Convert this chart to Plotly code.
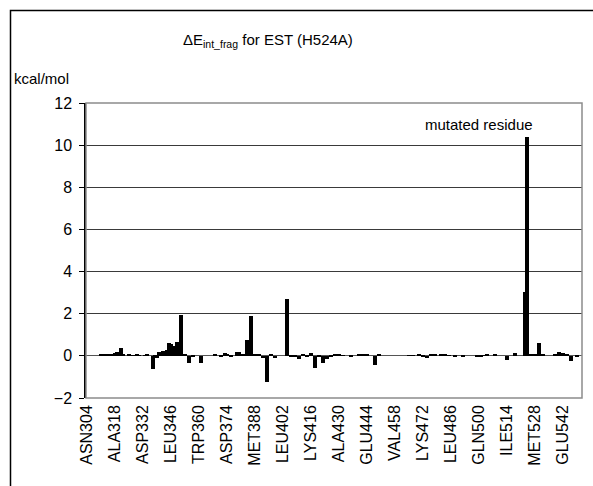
import plotly.graph_objects as go

# Residue numbers 304..551 (one bar per residue)
first_residue = 304
values = [
    0, 0, 0, 0, 0, 0, 0, 0.10, 0.08, 0.08, 0.08, 0.08, 0.10, 0.10,
    0.12, 0.18, 0.20, 0.35, 0.05, 0, 0, 0.05, 0, 0.04, 0, 0.05, 0.04, 0,
    0, 0.04, 0.05, 0, 0, -0.62, -0.05, -0.10, 0.18, 0.20, 0.22, 0.25, 0.30, 0.60,
    0.55, 0.45, 0.40, 0.65, 0.60, 1.92, 0, 0.10, 0, -0.35, 0, -0.05, 0, 0,
    0, -0.35, 0, 0, 0, 0, 0, 0, 0.10, 0, 0, -0.05, 0, 0.12,
    0.08, 0, -0.05, 0, 0, 0.18, 0.20, 0, 0.05, 0, 0.75, 0.75, 1.88, 0,
    0.10, 0, 0.05, 0, -0.10, 0, -1.25, 0, 0.10, 0, -0.10, 0, 0, 0,
    0, 0, 2.71, 0, -0.05, 0, -0.05, 0, -0.15, 0, 0.10, 0, -0.03, 0,
    0.15, 0, -0.58, 0, -0.05, 0, -0.35, 0, -0.15, 0, -0.05, 0, 0.05, 0,
    0.05, 0, 0.04, 0, 0, 0, -0.05, 0, 0, 0, 0.05, 0, 0.10, 0,
    0.05, 0, 0, 0, -0.42, 0, 0.10, 0, 0, 0, 0, 0, 0, 0,
    0, 0, 0, 0, 0, 0, 0, 0.03, 0, 0.03, 0, 0, 0.10, 0.03,
    -0.05, 0, -0.10, 0, 0.05, 0, 0.05, 0, 0, 0.05, 0, 0.05, 0, 0.03,
    0, 0, -0.03, 0, 0, 0, -0.03, 0, 0, 0, 0, 0, 0, -0.03,
    -0.05, -0.03, 0.03, 0, 0.05, 0, 0, 0, 0.05, 0, 0, 0, 0, 0,
    -0.18, 0, 0, 0, 0.15, 0, 0, 0, 0, 3.05, 10.40, 0.10, 0.10, 0.10,
    0.10, 0, 0.62, 0, 0.10, 0, 0, 0, 0, 0, 0.10, 0, 0.20, 0,
    0.15, 0, 0.05, 0, -0.25, 0, 0, -0.03, 0, 0,
]
residues = [first_residue + k for k in range(len(values))]

tick_residues = [304, 318, 332, 346, 360, 374, 388, 402, 416, 430,
                 444, 458, 472, 486, 500, 514, 528, 542]
tick_labels = ["ASN304", "ALA318", "ASP332", "LEU346", "TRP360", "ASP374",
               "MET388", "LEU402", "LYS416", "ALA430", "GLU444", "VAL458",
               "LYS472", "LEU486", "GLN500", "ILE514", "MET528", "GLU542"]

y_ticks = [-2, 0, 2, 4, 6, 8, 10, 12]

FONT = "Liberation Sans, Arial, sans-serif"

fig = go.Figure()
fig.add_trace(go.Bar(
    x=residues, y=values, width=1.8,
    marker=dict(color="#000000", line=dict(width=0)),
    showlegend=False,
))

W, H = 593, 486
L, R, T, B = 86, 11, 103, 88
pw, ph = W - L - R, H - T - B

def px(x):
    return (x - L) / pw

def py(y):
    return (H - B - y) / ph

fig.update_layout(
    width=W, height=H,
    margin=dict(l=L, r=R, t=T, b=B, pad=0),
    paper_bgcolor="white", plot_bgcolor="white",
    font=dict(family=FONT, size=15, color="black"),
    bargap=0,
    xaxis=dict(
        range=[first_residue - 0.5, first_residue + len(values) - 0.5],
        tickmode="array", tickvals=tick_residues, ticktext=tick_labels,
        tickangle=-90, ticks="", showgrid=False, zeroline=False,
        showline=False, tickfont=dict(size=16, family=FONT),
        ticklabelstandoff=3,
    ),
    yaxis=dict(
        range=[-2, 12], tickmode="array", tickvals=y_ticks,
        ticktext=["\u22122", "0", "2", "4", "6", "8", "10", "12"],
        ticks="outside", ticklen=5, tickcolor="black", tickwidth=1,
        showgrid=True, gridcolor="#3a3a3a", gridwidth=1,
        zeroline=True, zerolinecolor="#555555", zerolinewidth=1,
        showline=True, linecolor="black", linewidth=1.5,
        tickfont=dict(size=16, family=FONT),
        ticklabelstandoff=4,
    ),
    shapes=[
        # plot-area border
        dict(type="rect", xref="paper", yref="paper", x0=0, x1=1, y0=0, y1=1,
             line=dict(color="#8c8c8c", width=1.5), layer="above"),
        # outer chart frame
        dict(type="rect", xref="paper", yref="paper",
             x0=px(10.5), x1=px(620), y0=py(520), y1=py(10.5),
             line=dict(color="black", width=1.5)),
    ],
    annotations=[
        dict(text="\u0394E<sub>int_frag</sub> for EST (H524A)", xref="paper", yref="paper",
             x=px(268), y=py(40), xanchor="center", yanchor="middle",
             showarrow=False, font=dict(size=15, family=FONT)),
        dict(text="kcal/mol", xref="paper", yref="paper",
             x=px(12), y=py(78), xanchor="left", yanchor="middle",
             showarrow=False, font=dict(size=15, family=FONT)),
        dict(text="mutated residue", xref="paper", yref="paper",
             x=px(535), y=py(124), xanchor="right", yanchor="middle",
             showarrow=False, font=dict(size=15, family=FONT)),
    ],
)

fig.write_html("out.html")
